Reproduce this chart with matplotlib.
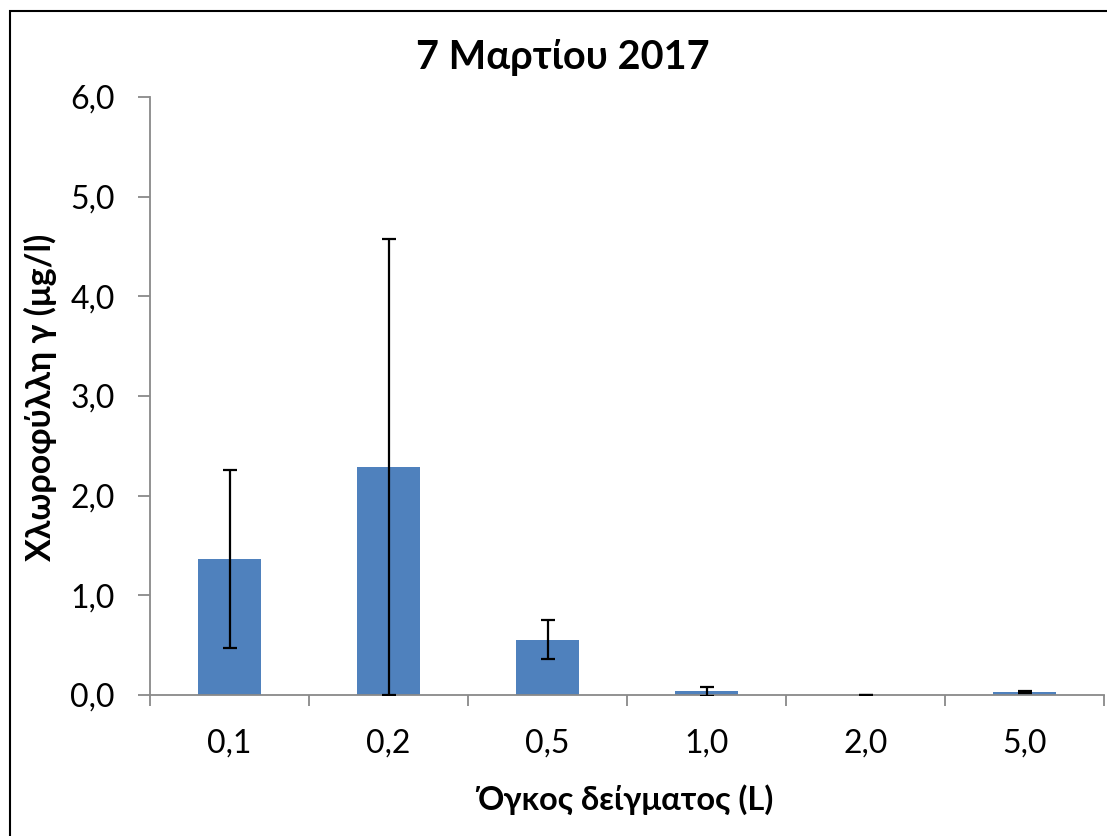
import matplotlib
matplotlib.use("Agg")
import matplotlib.pyplot as plt
from matplotlib.patches import Rectangle
import numpy as np

plt.rcParams['font.family'] = ['Lato', 'DejaVu Sans']

categories = ['0,1', '0,2', '0,5', '1,0', '2,0', '5,0']
values = [1.365, 2.29, 0.555, 0.038, 0.004, 0.028]
errors = [0.89, 2.29, 0.195, 0.045, 0.0, 0.012]
yticks = [0, 1, 2, 3, 4, 5, 6]
ytick_labels = ['0,0', '1,0', '2,0', '3,0', '4,0', '5,0', '6,0']

W, H = 1107, 836
fig = plt.figure(figsize=(W / 100, H / 100), dpi=100)
ax = fig.add_axes([150 / W, 1 - 695 / H, (1104 - 150) / W, (695 - 97) / H])

x = np.arange(len(categories))
ax.bar(x, values, width=0.4, color='#4F81BD', zorder=2)
ax.errorbar(x, values, yerr=errors, fmt='none', ecolor='black',
            elinewidth=1.6, capsize=5, capthick=1.6, zorder=3)

ax.set_xlim(-0.5, len(categories) - 0.5)
ax.set_ylim(0, 6)
ax.set_yticks(yticks)
ax.set_yticklabels(ytick_labels, fontsize=23)
ax.set_xticks(x)
ax.set_xticklabels(categories, fontsize=23)
ax.tick_params(axis='x', length=0, pad=24)
ax.set_xticks(np.arange(-0.5, len(categories), 1.0), minor=True)
ax.tick_params(axis='x', which='minor', length=8, color='#898989', width=1.3)
ax.tick_params(axis='y', length=8.5, color='#898989', width=1.3, pad=17)

for s in ['top', 'right']:
    ax.spines[s].set_visible(False)
for s in ['left', 'bottom']:
    ax.spines[s].set_color('#898989')
    ax.spines[s].set_linewidth(1.3)

fig.text(563 / W, 1 - 58 / H, '7 Μαρτίου 2017', ha='center', va='center',
         fontsize=28.5, fontweight='bold')
fig.text(625 / W, 1 - 800 / H, 'Όγκος δείγματος (L)', ha='center', va='center',
         fontsize=23.5, fontweight='bold')
fig.text(40 / W, 1 - 397 / H, 'Χλωροφύλλη γ (μg/l)', ha='center', va='center',
         fontsize=24.5, fontweight='bold', rotation=90)

fig.patches.append(Rectangle((10 / W, -0.1), 1.2, 1 - 11 / H + 0.1,
                             transform=fig.transFigure, fill=False,
                             edgecolor='black', linewidth=1.5))

fig.savefig('out.png', dpi=100)
